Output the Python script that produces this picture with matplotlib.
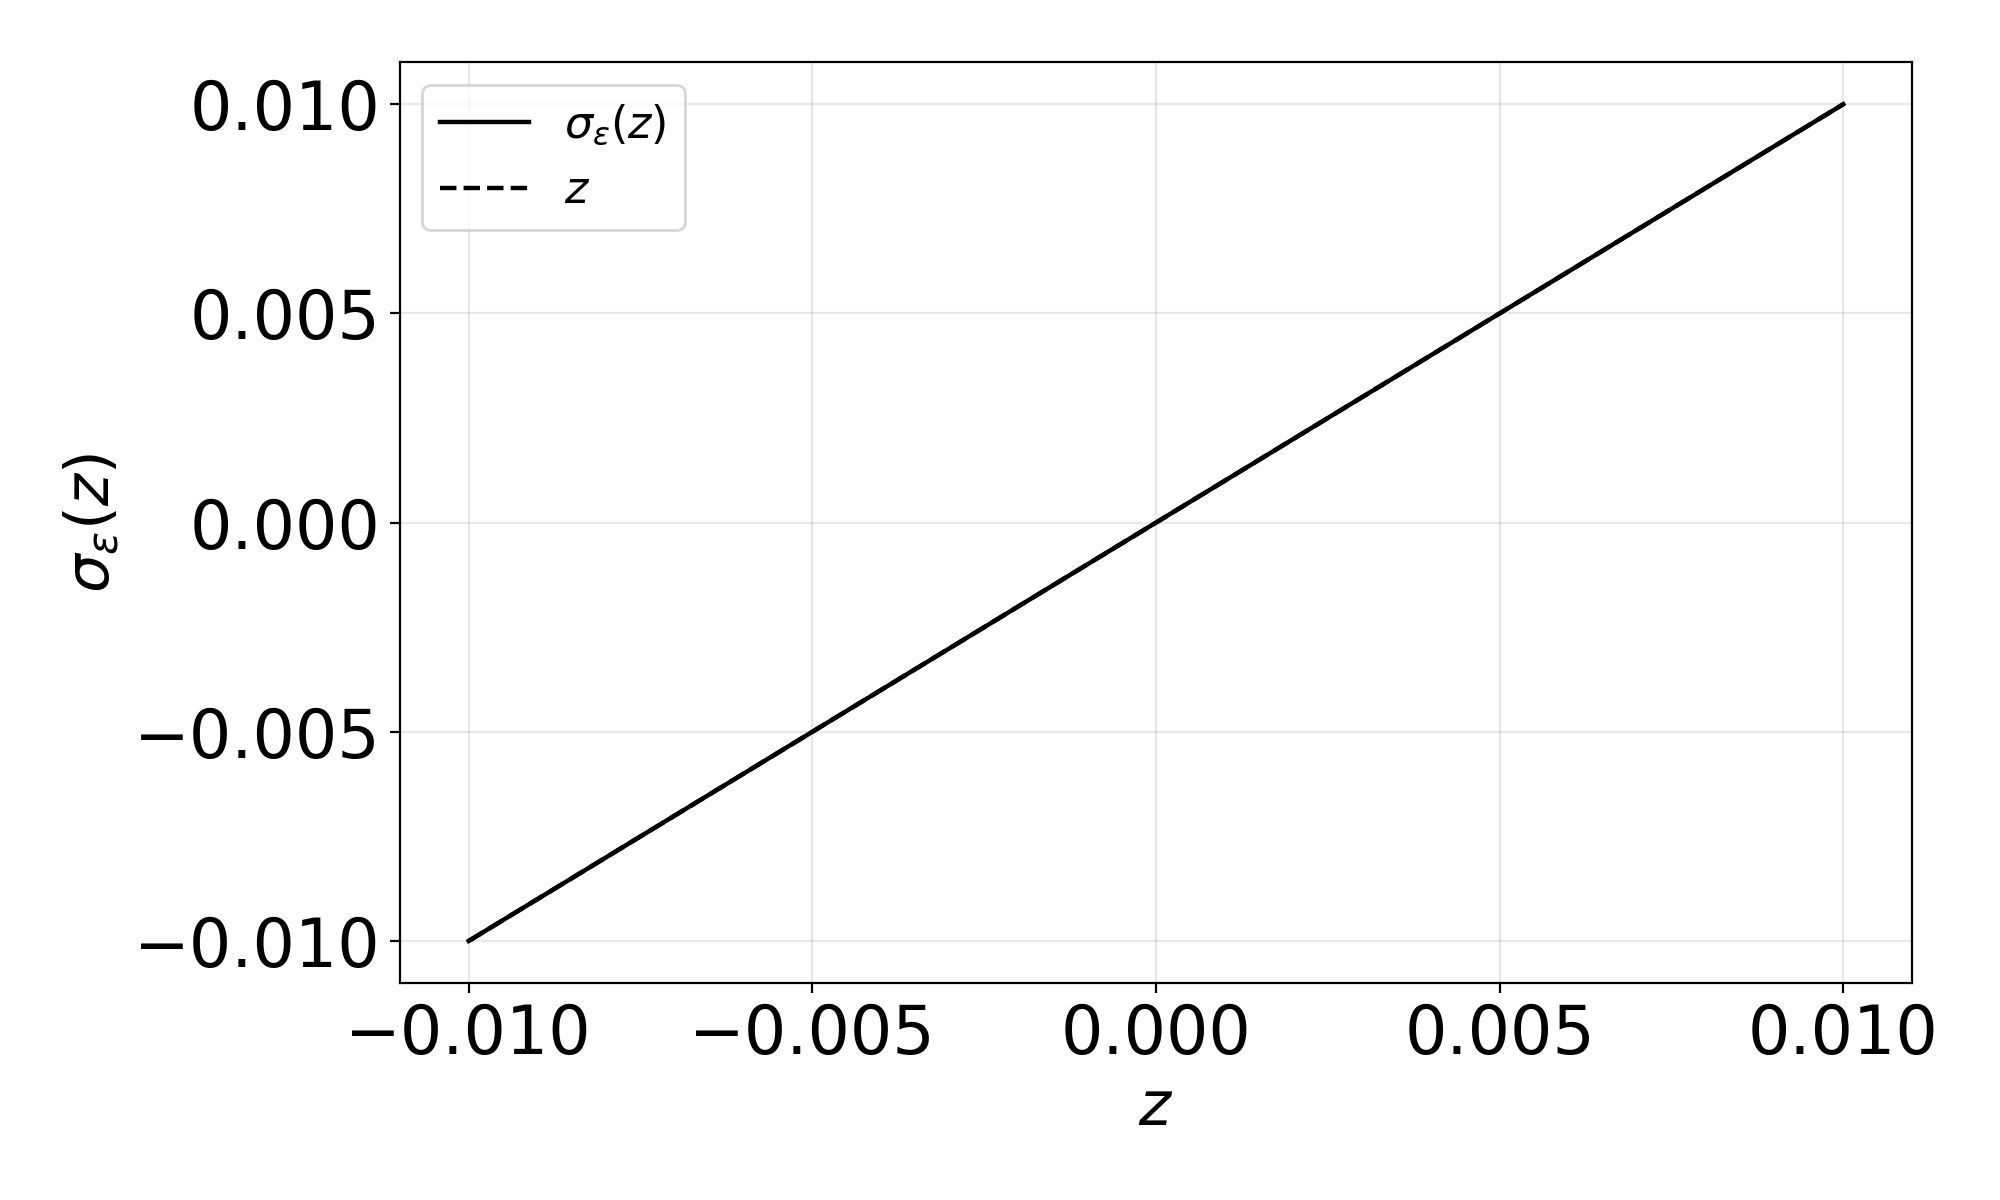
import matplotlib.pyplot as plt

# waarden
z = [-0.010, -0.005, 0.000, 0.005, 0.010]
sigma_eps = [-0.010, -0.005, 0.000, 0.005, 0.010]
ticks = [-0.010, -0.005, 0.000, 0.005, 0.010]

fig = plt.figure(figsize=(10, 6), dpi=200)
ax = fig.add_axes([0.2, 0.181, 0.756, 0.767])

ax.plot(z, sigma_eps, color="black", linewidth=1.6, label=r"$\sigma_\varepsilon(z)$")
ax.plot(z, z, color="black", linestyle="--", linewidth=1.6, label=r"$z$")

labels = [f"{t:.3f}".replace("-", "\u2212") for t in ticks]
ax.set_xticks(ticks)
ax.set_yticks(ticks)
ax.set_xticklabels(labels)
ax.set_yticklabels(labels)
ax.tick_params(labelsize=24)
ax.set_xlabel(r"$z$", fontsize=22)
ax.set_ylabel(r"$\sigma_\varepsilon(z)$", fontsize=22)
ax.grid(True, alpha=0.3)
ax.legend(fontsize=16, loc="upper left")

fig.savefig("out.png")
